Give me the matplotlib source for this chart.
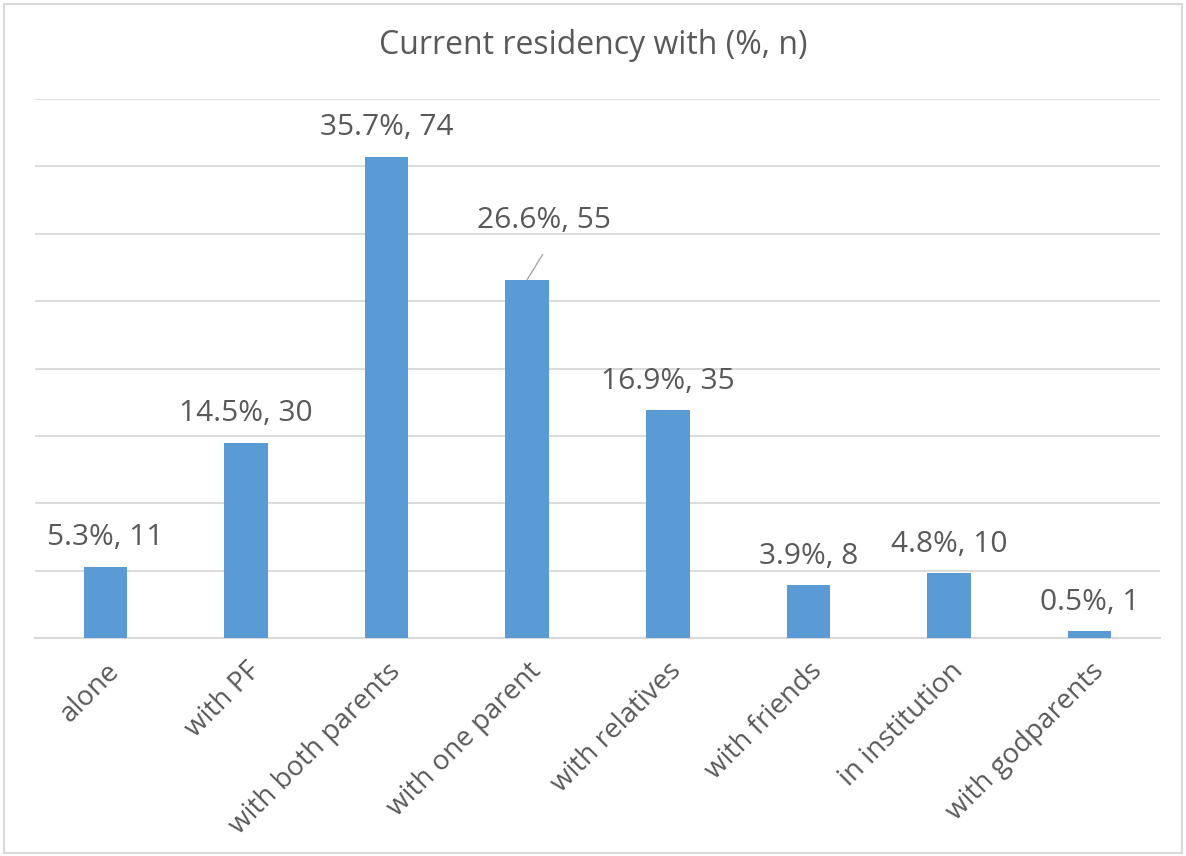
import matplotlib.pyplot as plt
from matplotlib.patches import Rectangle

# residency categories with share (%) and count
categories = ['alone', 'with PF', 'with both parents', 'with one parent',
              'with relatives', 'with friends', 'in institution', 'with godparents']
percent = [5.3, 14.5, 35.7, 26.6, 16.9, 3.9, 4.8, 0.5]
counts = [11, 30, 74, 55, 35, 8, 10, 1]

plt.rcParams['font.family'] = ['Open Sans', 'DejaVu Sans']
text_col = '#595959'
grid_col = '#d9d9d9'
bar_col = '#5b9bd5'

fig = plt.figure(figsize=(11.86, 8.56), dpi=100)
ax = fig.add_axes([35 / 1186, 1 - 638 / 856, 1125 / 1186, 539 / 856])

x = range(len(categories))
ax.bar(x, percent, width=0.31, color=bar_col, zorder=3)

ax.set_xlim(-0.5, len(categories) - 0.5)
ax.set_ylim(0, 40)
ax.set_yticks(range(0, 41, 5))
ax.yaxis.grid(True, color=grid_col, linewidth=1.3, zorder=0)
ax.tick_params(axis='y', length=0, labelleft=False)
ax.tick_params(axis='x', length=0, pad=14)
for s in ['top', 'right', 'left']:
    ax.spines[s].set_visible(False)
ax.spines['bottom'].set_color(grid_col)
ax.spines['bottom'].set_linewidth(1.5)

ax.set_xticks(list(x))
ax.set_xticklabels(categories, rotation=45, ha='right', rotation_mode='anchor',
                   fontsize=20, color=text_col)

# value labels; the one-parent label sits off to the side with a leader line
for i, (p, n) in enumerate(zip(percent, counts)):
    label = f'{p}%, {n}'
    if categories[i] == 'with one parent':
        ax.annotate(label, xy=(i, p), xytext=(12, 37), textcoords='offset points',
                    ha='center', va='baseline', fontsize=21.5, color=text_col,
                    arrowprops=dict(arrowstyle='-', color='#a6a6a6', lw=1,
                                    relpos=(0.58, 0), shrinkA=14, shrinkB=0))
    else:
        ax.annotate(label, xy=(i, p), xytext=(0, 15.5), textcoords='offset points',
                    ha='center', va='baseline', fontsize=21.5, color=text_col)

fig.text(0.5, 1 - 45 / 856, 'Current residency with (%, n)', ha='center', va='center',
         fontsize=23, color=text_col)

# light chart border
fig.patches.append(Rectangle((4 / 1186, 3 / 856), 1178 / 1186, 849 / 856,
                             transform=fig.transFigure, fill=False,
                             edgecolor=grid_col, linewidth=1.5))

fig.savefig('out.png', dpi=100)
